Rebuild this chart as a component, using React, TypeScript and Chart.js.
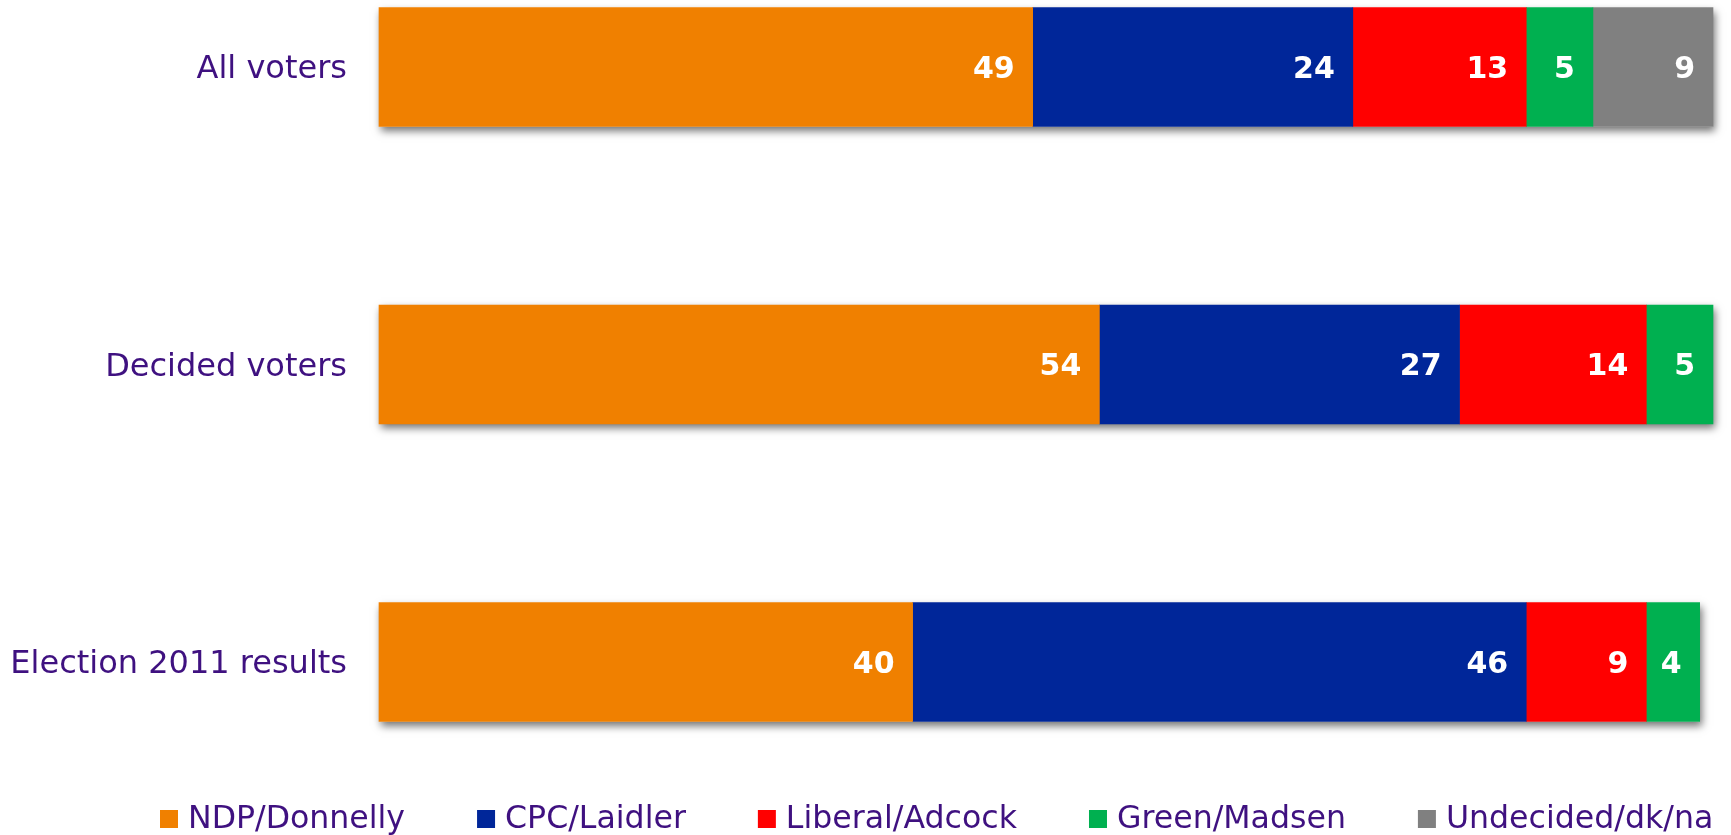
import React, { useEffect, useRef } from "react";
import { Chart, registerables } from "chart.js";

Chart.register(...registerables);

const categories = ["All voters", "Decided voters", "Election 2011 results"];
const seriesNames = ["NDP/Donnelly", "CPC/Laidler", "Liberal/Adcock", "Green/Madsen", "Undecided/dk/na"];
const ndp = [49, 54, 40];
const cpc = [24, 27, 46];
const liberal = [13, 14, 9];
const green = [5, 5, 4];
const undecided = [9, null, null];
const seriesColors = ["#F08000", "#002699", "#FF0000", "#00B050", "#808080"];
const TEXT_COLOR = "#3f1180";

const shadowPlugin = {
  id: "barShadow",
  beforeDatasetsDraw(chart: any) {
    const ctx = chart.ctx;
    const xs = chart.scales.x;
    const n = chart.data.labels.length;
    ctx.save();
    for (let i = 0; i < n; i++) {
      let total = 0;
      let y = 0;
      let h = 0;
      chart.data.datasets.forEach((ds: any, di: number) => {
        const v = ds.data[i];
        if (v != null) {
          total += v;
          const el = chart.getDatasetMeta(di).data[i];
          y = el.y;
          h = el.height;
        }
      });
      const left = xs.getPixelForValue(0);
      const right = xs.getPixelForValue(total);
      ctx.shadowColor = "rgba(0,0,0,0.55)";
      ctx.shadowBlur = 8;
      ctx.shadowOffsetX = 2;
      ctx.shadowOffsetY = 4;
      ctx.fillStyle = "#ffffff";
      ctx.fillRect(left, y - h / 2, right - left, h);
    }
    ctx.restore();
  },
};

const valueLabelPlugin = {
  id: "valueLabels",
  afterDatasetsDraw(chart: any) {
    const ctx = chart.ctx;
    ctx.save();
    ctx.fillStyle = "#ffffff";
    ctx.font = "bold 30px 'DejaVu Sans'";
    ctx.textAlign = "right";
    ctx.textBaseline = "middle";
    chart.data.datasets.forEach((ds: any, di: number) => {
      const meta = chart.getDatasetMeta(di);
      meta.data.forEach((el: any, i: number) => {
        const v = ds.data[i];
        if (v == null) return;
        ctx.fillText(String(v), el.x - 18, el.y + 3);
      });
    });
    ctx.restore();
  },
};

const legendPlugin = {
  id: "bottomLegend",
  afterDraw(chart: any) {
    const ctx = chart.ctx;
    const fontSize = 31.6;
    const baseline = 828;
    let x = 160;
    ctx.save();
    ctx.font = `${fontSize}px 'DejaVu Sans'`;
    ctx.textBaseline = "alphabetic";
    ctx.textAlign = "left";
    chart.data.datasets.forEach((ds: any) => {
      ctx.fillStyle = ds.backgroundColor;
      ctx.fillRect(x, 810, 18, 18);
      const tx = x + 28;
      const w = ctx.measureText(ds.label).width;
      ctx.fillStyle = TEXT_COLOR;
      ctx.fillText(ds.label, tx, baseline);
      x = tx + w + 72;
    });
    ctx.restore();
  },
};

export default function App() {
  const canvasRef = useRef<HTMLCanvasElement | null>(null);

  useEffect(() => {
    document.body.style.margin = "0";
    const values = [ndp, cpc, liberal, green, undecided];
    const chart = new Chart(canvasRef.current as HTMLCanvasElement, {
      type: "bar",
      data: {
        labels: categories,
        datasets: seriesNames.map((name, i) => ({
          label: name,
          data: values[i] as any,
          backgroundColor: seriesColors[i],
          borderWidth: 0,
          barThickness: 119,
          clip: false as any,
        })),
      },
      options: {
        indexAxis: "y",
        animation: false,
        responsive: false,
        maintainAspectRatio: false,
        layout: { padding: { top: 67, right: 18, bottom: 173, left: 0 } },
        plugins: {
          legend: { display: false },
          tooltip: { enabled: false },
        },
        scales: {
          x: {
            stacked: true,
            min: 0,
            max: 100,
            display: false,
          },
          y: {
            stacked: true,
            offset: false,
            border: { display: false },
            grid: { display: false, drawTicks: false },
            ticks: {
              padding: 32,
              labelOffset: 3,
              color: TEXT_COLOR,
              font: { family: "'DejaVu Sans'", size: 32 },
            },
            afterFit(scale: any) {
              scale.width = 379;
            },
          },
        },
      },
      plugins: [shadowPlugin, valueLabelPlugin, legendPlugin],
    });
    return () => chart.destroy();
  }, []);

  return (
    <div style={{ position: "fixed", left: 0, top: 0, width: 1731, height: 835, background: "#fff" }}>
      <canvas ref={canvasRef} width={1731} height={835} style={{ display: "block" }} />
    </div>
  );
}
